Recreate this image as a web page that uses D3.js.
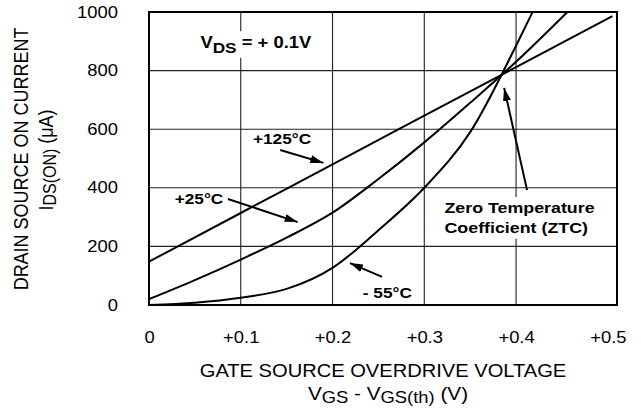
<!DOCTYPE html>
<html>
<head>
<meta charset="utf-8">
<script src="https://cdn.jsdelivr.net/npm/d3@7"></script>
<style>
  body { margin: 0; background: #fff; }
  svg text { fill: #000; }
</style>
</head>
<body>
<div id="chart"></div>
<script>
// Drain current vs gate overdrive, three temperatures
const hotV  = [0, 0.1, 0.2, 0.3, 0.4, 0.505];
const hotI  = [148, 314, 480, 646, 812, 986];
const roomV = [0, 0.05, 0.1, 0.15, 0.2, 0.25, 0.3, 0.35, 0.4, 0.456];
const roomI = [20, 85, 155, 230, 315, 430, 555, 690, 830, 1000];
const coldV = [0, 0.05, 0.1, 0.15, 0.2, 0.25, 0.3, 0.35, 0.4, 0.418];
const coldI = [0, 8, 25, 55, 127, 255, 400, 590, 885, 1000];

const xTicks = [0, 0.1, 0.2, 0.3, 0.4, 0.5];
const xTickLabels = ['0', '+0.1', '+0.2', '+0.3', '+0.4', '+0.5'];
const yTicks = [0, 200, 400, 600, 800, 1000];

// annotation arrows, in data units: [fromV, fromI, toV, toI]
const arrows = [
  [0.143, 529, 0.190, 485],   // +125°C
  [0.086, 362, 0.162, 283],   // +25°C
  [0.254, 96, 0.219, 143],    // -55°C
  [0.412, 392, 0.387, 741]    // ZTC
];

const FONT = '"Liberation Sans", Arial, Helvetica, sans-serif';
const SX = 1.15; // the original is stretched sideways a little

const svg = d3.select('#chart').append('svg')
  .attr('width', 641)
  .attr('height', 411)
  .style('font-family', FONT);

const x = d3.scaleLinear().domain([0, 0.51]).range([149, 617]);
const y = d3.scaleLinear().domain([0, 1000]).range([305, 12]);

// Grid
svg.append('g').selectAll('line')
  .data(xTicks.slice(1, -1))
  .enter().append('line')
  .attr('x1', d => x(d)).attr('x2', d => x(d))
  .attr('y1', y(0)).attr('y2', y(1000))
  .attr('stroke', '#222').attr('stroke-width', 1.1);

svg.append('g').selectAll('line')
  .data(yTicks.slice(1, -1))
  .enter().append('line')
  .attr('x1', x(0)).attr('x2', x(0.51))
  .attr('y1', d => y(d)).attr('y2', d => y(d))
  .attr('stroke', '#222').attr('stroke-width', 1.1);

// Axes (labels only)
const xAxis = svg.append('g')
  .attr('transform', `translate(0,${y(0)})`)
  .call(d3.axisBottom(x).tickValues(xTicks).tickFormat((d, i) => xTickLabels[i]).tickSize(0).tickPadding(27));
xAxis.select('.domain').remove();
xAxis.attr('font-family', FONT).attr('font-size', 16);
xAxis.selectAll('text').attr('fill', '#000').attr('transform', `scale(${SX},1)`);

const yAxis = svg.append('g')
  .attr('transform', `translate(${x(0)},0)`)
  .call(d3.axisLeft(y).tickValues(yTicks).tickFormat(d3.format('d')).tickSize(0).tickPadding(27));
yAxis.select('.domain').remove();
yAxis.attr('font-family', FONT).attr('font-size', 16);
yAxis.selectAll('text').attr('fill', '#000').attr('transform', `scale(${SX},1)`);

// Curves
const line = d3.line()
  .x(d => x(d[0]))
  .y(d => y(d[1]))
  .curve(d3.curveMonotoneX);

[[hotV, hotI], [roomV, roomI], [coldV, coldI]].forEach(([vs, is]) => {
  svg.append('path')
    .datum(vs.map((v, i) => [v, is[i]]))
    .attr('fill', 'none')
    .attr('stroke', '#000')
    .attr('stroke-width', 2)
    .attr('stroke-linejoin', 'round')
    .attr('d', line);
});

// Frame
svg.append('rect')
  .attr('x', x(0)).attr('y', y(1000))
  .attr('width', x(0.51) - x(0)).attr('height', y(0) - y(1000))
  .attr('fill', 'none').attr('stroke', '#000').attr('stroke-width', 2);

// Text helper: parts = [{t, sub}], sub parts are smaller and dropped
function label(px, py, opts, parts) {
  const size = opts.size || 16;
  const subSize = opts.subSize || size - 2;
  const shift = opts.shift || 4;
  let tf = `translate(${px},${py}) scale(${SX},1)`;
  if (opts.rotate) tf += ' rotate(-90)';
  const g = svg.append('g').attr('transform', tf);
  const t = g.append('text')
    .attr('text-anchor', opts.anchor || 'start')
    .attr('font-weight', opts.bold ? 'bold' : 'normal')
    .attr('font-size', size);
  let off = 0;
  parts.forEach(p => {
    const want = p.sub ? shift : 0;
    t.append('tspan')
      .attr('dy', want - off)
      .attr('font-size', p.sub ? subSize : size)
      .text(p.t);
    off = want;
  });
  if (opts.bg) {
    const b = t.node().getBBox();
    g.insert('rect', 'text')
      .attr('x', b.x - 3).attr('y', b.y - 2)
      .attr('width', b.width + 6).attr('height', b.height + 4)
      .attr('fill', '#fff');
  }
  return g;
}

// Axis titles
label(28, 159, { size: 18, anchor: 'middle', rotate: true }, [{ t: 'DRAIN SOURCE ON CURRENT' }]);
label(53, 160, { size: 18, subSize: 16, shift: 3, anchor: 'middle', rotate: true },
  [{ t: 'I' }, { t: 'DS(ON)', sub: true }, { t: ' (\u03bcA)' }]);

label(383, 377, { size: 17.5, anchor: 'middle' }, [{ t: 'GATE SOURCE OVERDRIVE VOLTAGE' }]);
label(388, 400, { size: 18, subSize: 16, shift: 3, anchor: 'middle' },
  [{ t: 'V' }, { t: 'GS', sub: true }, { t: ' - V' }, { t: 'GS(th)', sub: true }, { t: ' (V)' }]);

// Annotations
label(x(0.056), y(877), { size: 16, subSize: 15, shift: 5, bold: true, bg: true },
  [{ t: 'V' }, { t: 'DS', sub: true }, { t: ' = + 0.1V' }]);
label(x(0.145), y(550), { size: 15, bold: true, anchor: 'middle' }, [{ t: '+125\u00b0C' }]);
label(x(0.028), y(345), { size: 15, bold: true }, [{ t: '+25\u00b0C' }]);
label(x(0.233), y(24), { size: 15, bold: true }, [{ t: '- 55\u00b0C' }]);

const ztc = svg.append('g');
label(x(0.322), y(314), { size: 15.5, bold: true, bg: true }, [{ t: 'Zero Temperature' }]);
label(x(0.322), y(246), { size: 15.5, bold: true, bg: true }, [{ t: 'Coefficient (ZTC)' }]);

// Arrows
svg.append('defs').append('marker')
  .attr('id', 'head')
  .attr('viewBox', '0 0 13 8')
  .attr('refX', 13).attr('refY', 4)
  .attr('markerWidth', 13).attr('markerHeight', 8)
  .attr('markerUnits', 'userSpaceOnUse')
  .attr('orient', 'auto')
  .append('path')
  .attr('d', 'M0,0L13,4L0,8Z')
  .attr('fill', '#000');

svg.append('g').selectAll('line')
  .data(arrows)
  .enter().append('line')
  .attr('x1', d => x(d[0])).attr('y1', d => y(d[1]))
  .attr('x2', d => x(d[2])).attr('y2', d => y(d[3]))
  .attr('stroke', '#000').attr('stroke-width', 2)
  .attr('marker-end', 'url(#head)');
</script>
</body>
</html>
